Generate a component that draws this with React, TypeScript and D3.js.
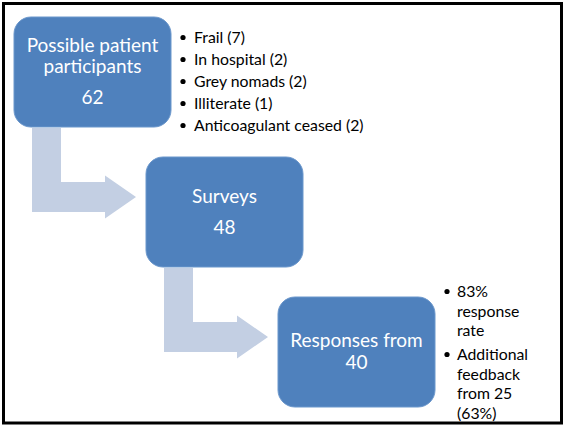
import React from "react";
import * as d3 from "d3";

// flow stages
const stageLabels = ["Possible patient participants", "Surveys", "Responses from"];
const stageCounts = [62, 48, 40];
const countOnOwnLine = [true, true, false];
const stageWrapped = [["Possible patient", "participants"], ["Surveys"], ["Responses from"]];

// exclusions between stage 1 and 2
const exclusionReasons = ["Frail", "In hospital", "Grey nomads", "Illiterate", "Anticoagulant ceased"];
const exclusionCounts = [7, 2, 2, 1, 2];

// notes on the responses
const responseNotes = [
  ["83%", "response", "rate"],
  ["Additional", "feedback", "from 25", "(63%)"],
];

const W = 565, H = 427;
const boxW = 157, boxH = 110;
const FONT = "Lato, 'Open Sans', sans-serif";
const BOX_FILL = "#4f81bd";
const ARROW_FILL = "#c3cfe3";

const x = d3.scaleLinear().domain([0, stageLabels.length - 1]).range([14, 278]);
const y = d3.scaleLinear().domain([0, stageLabels.length - 1]).range([17, 297]);

function connector(i: number) {
  const vx0 = x(i) + 18, vx1 = vx0 + 29;
  const top = y(i) + boxH + 1;
  const cy = y(i + 1) + 40;
  const tipX = x(i + 1) - 10, base = tipX - 31;
  const p = d3.path();
  p.moveTo(vx0, top);
  p.lineTo(vx1, top);
  p.lineTo(vx1, cy - 15);
  p.lineTo(base, cy - 15);
  p.lineTo(base, cy - 21.5);
  p.lineTo(tipX, cy);
  p.lineTo(base, cy + 21.5);
  p.lineTo(base, cy + 15);
  p.lineTo(vx0, cy + 15);
  p.closePath();
  return p.toString();
}

function boxLines(i: number) {
  const lines: { t: string; gap: number }[] = [];
  stageWrapped[i].forEach((t, k) => lines.push({ t, gap: k === 0 ? 0 : 21 }));
  lines.push({ t: String(stageCounts[i]), gap: countOnOwnLine[i] ? 31 : 22 });
  return lines;
}

export default function App() {
  return (
    <svg width={W} height={H} style={{ position: "absolute", left: 0, top: 0, background: "#fff" }}>
      <rect x={3.5} y={3.5} width={558} height={419.5} fill="#fff" stroke="#000" strokeWidth={3} />

      {stageLabels.slice(0, -1).map((_, i) => (
        <path key={"c" + i} d={connector(i)} fill={ARROW_FILL} />
      ))}

      {stageLabels.map((label, i) => {
        const lines = boxLines(i);
        const total = d3.sum(lines, (l) => l.gap);
        const cx = x(i) + boxW / 2;
        let by = y(i) + boxH / 2 + 6 - total / 2;
        return (
          <g key={label}>
            <rect x={x(i)} y={y(i)} width={boxW} height={boxH} rx={17} fill={BOX_FILL} stroke="#6b97cc" strokeWidth={1} />
            {lines.map((l, k) => {
              by += l.gap;
              return (
                <text key={k} x={cx} y={by} textAnchor="middle" fill="#fff" fontFamily={FONT} fontSize={19}>
                  {l.t}
                </text>
              );
            })}
          </g>
        );
      })}

      {exclusionReasons.map((r, k) => {
        const bx = x(0) + boxW + 12;
        const by = 43 + k * 22;
        return (
          <g key={r}>
            <circle cx={bx} cy={by - 5.5} r={2.6} fill="#000" />
            <text x={bx + 11} y={by} fontFamily={FONT} fontSize={15.8} fill="#000">
              {`${r} (${exclusionCounts[k]})`}
            </text>
          </g>
        );
      })}

      {(() => {
        const bx = x(2) + boxW + 12;
        let by = 297;
        return responseNotes.map((note, n) => {
          if (n > 0) by += 24;
          const start = by;
          const els = note.map((t, k) => (
            <text key={k} x={bx + 10} y={start + k * 19.5} fontFamily={FONT} fontSize={15.8} fill="#000">
              {t}
            </text>
          ));
          by = start + (note.length - 1) * 19.5;
          return (
            <g key={n}>
              <circle cx={bx} cy={start - 5.5} r={2.6} fill="#000" />
              {els}
            </g>
          );
        });
      })()}
    </svg>
  );
}
